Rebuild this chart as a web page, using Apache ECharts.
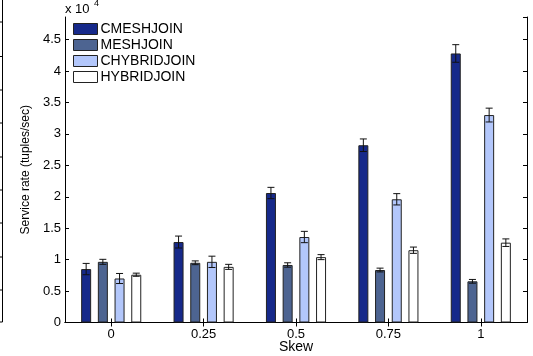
<!DOCTYPE html>
<html>
<head>
<meta charset="utf-8">
<script src="https://cdn.jsdelivr.net/npm/echarts@6/dist/echarts.min.js"></script>
<style>html,body{margin:0;padding:0;background:#fff}#c{width:533px;height:356px}</style>
</head>
<body>
<div id="c"></div>
<script>
// values in units of 10^4 tuples/sec
var categories = ['0', '0.25', '0.5', '0.75', '1'];
var seriesNames = ['CMESHJOIN', 'MESHJOIN', 'CHYBRIDJOIN', 'HYBRIDJOIN'];
var cmeshjoin = [0.85, 1.28, 2.06, 2.82, 4.28];
var meshjoin = [0.965, 0.95, 0.915, 0.835, 0.655];
var chybridjoin = [0.70, 0.965, 1.36, 1.96, 3.30];
var hybridjoin = [0.76, 0.885, 1.04, 1.15, 1.27];
var cmeshjoinErr = [0.09, 0.095, 0.09, 0.1, 0.14];
var meshjoinErr = [0.04, 0.03, 0.035, 0.03, 0.03];
var chybridjoinErr = [0.08, 0.09, 0.09, 0.09, 0.11];
var hybridjoinErr = [0.025, 0.04, 0.04, 0.05, 0.06];
var yTicks = [0, 0.5, 1, 1.5, 2, 2.5, 3, 3.5, 4, 4.5];

var values = [cmeshjoin, meshjoin, chybridjoin, hybridjoin];
var errs = [cmeshjoinErr, meshjoinErr, chybridjoinErr, hybridjoinErr];
var colors = ['#16298a', '#4d6491', '#b3c7fb', '#ffffff'];
var FONT = 'Liberation Sans';
var BAR_W = 10, BAR_GAP = 0.67;

var chart = echarts.init(document.getElementById('c'));
var series = [];
seriesNames.forEach(function (n, i) {
  series.push({
    name: n, type: 'bar', data: values[i], barWidth: BAR_W, barGap: (BAR_GAP * 100) + '%',
    itemStyle: { color: colors[i], borderColor: '#222', borderWidth: 1 },
    animation: false
  });
});
seriesNames.forEach(function (n, i) {
  var data = values[i].map(function (v, k) { return [k, v - errs[i][k], v + errs[i][k]]; });
  series.push({
    type: 'custom', data: data, z: 10, animation: false, silent: true,
    renderItem: function (params, api) {
      var k = api.value(0);
      var lo = api.coord([k, api.value(1)]);
      var hi = api.coord([k, api.value(2)]);
      var step = BAR_W * (1 + BAR_GAP);
      var total = 4 * BAR_W + 3 * BAR_W * BAR_GAP;
      var x = lo[0] - total / 2 + i * step + BAR_W / 2;
      var c = 3.5;
      var st = { stroke: '#111', lineWidth: 1, fill: null };
      return { type: 'group', children: [
        { type: 'line', shape: { x1: x, y1: lo[1], x2: x, y2: hi[1] }, style: st },
        { type: 'line', shape: { x1: x - c, y1: lo[1], x2: x + c, y2: lo[1] }, style: st },
        { type: 'line', shape: { x1: x - c, y1: hi[1], x2: x + c, y2: hi[1] }, style: st }
      ]};
    }
  });
});

var axisLineStyle = { show: true, lineStyle: { color: '#000', width: 1 } };
chart.setOption({
  backgroundColor: '#fff',
  animation: false,
  grid: { left: 65, right: 6, top: 17, bottom: 33.5, containLabel: false, outerBoundsMode: 'none' },
  legend: {
    data: seriesNames.map(function (n, i) {
      return { name: n, itemStyle: { color: colors[i], borderColor: '#222', borderWidth: 1 } };
    }),
    orient: 'vertical', left: 73, top: 22, itemWidth: 24, itemHeight: 11, itemGap: 2,
    textStyle: { fontFamily: FONT, fontSize: 14, lineHeight: 13.5, color: '#000', padding: [0, 0, 0, -2] },
    selectedMode: false, icon: 'rect', padding: 0
  },
  xAxis: [{
    type: 'category', data: categories, position: 'bottom',
    axisLine: axisLineStyle,
    axisTick: { show: true, inside: true, alignWithLabel: true, length: 4, lineStyle: { color: '#000' } },
    axisLabel: { fontFamily: FONT, fontSize: 13, color: '#000', margin: 5 },
    name: 'Skew', nameLocation: 'middle', nameGap: 18, nameMoveOverlap: false,
    nameTextStyle: { fontFamily: FONT, fontSize: 14, color: '#000' }
  }, {
    type: 'category', data: categories, position: 'top',
    axisLine: axisLineStyle,
    axisTick: { show: true, inside: true, alignWithLabel: true, length: 4, lineStyle: { color: '#000' } },
    axisLabel: { show: false }
  }],
  yAxis: [{
    type: 'value', min: 0, max: 4.86, interval: 0.5, position: 'left',
    axisLine: axisLineStyle,
    axisTick: { show: true, inside: true, length: 4, lineStyle: { color: '#000' } },
    splitLine: { show: false },
    axisLabel: { fontFamily: FONT, fontSize: 13, color: '#000', margin: 4, showMaxLabel: false,
      formatter: function (v) { return yTicks.indexOf(Math.round(v * 100) / 100) >= 0 ? String(Math.round(v * 100) / 100) : ''; } },
    name: 'Service rate (tuples/sec)', nameLocation: 'middle', nameGap: 22,
    nameTextStyle: { fontFamily: FONT, fontSize: 12, color: '#000' }
  }, {
    type: 'value', min: 0, max: 4.86, interval: 0.5, position: 'right',
    axisLine: axisLineStyle,
    axisTick: { show: true, inside: true, length: 4, lineStyle: { color: '#000' } },
    splitLine: { show: false },
    axisLabel: { show: false }
  }],
  graphic: [
    { type: 'text', left: 65, top: 3, style: { text: 'x 10', fontFamily: FONT, fontSize: 13, fill: '#000' } },
    { type: 'text', left: 94, top: -1, style: { text: '4', fontFamily: FONT, fontSize: 9, fill: '#000' } },
    { type: 'line', shape: { x1: 2.5, y1: 0, x2: 2.5, y2: 322 }, style: { stroke: '#000', lineWidth: 1 } },
    { type: 'line', shape: { x1: 0, y1: 322, x2: 2.5, y2: 322 }, style: { stroke: '#000', lineWidth: 1 } },
    { type: 'line', shape: { x1: 0, y1: 22, x2: 2.5, y2: 22 }, style: { stroke: '#000', lineWidth: 1 } },
    { type: 'line', shape: { x1: 0, y1: 56.5, x2: 2.5, y2: 56.5 }, style: { stroke: '#000', lineWidth: 1 } },
    { type: 'line', shape: { x1: 0, y1: 90, x2: 2.5, y2: 90 }, style: { stroke: '#000', lineWidth: 1 } },
    { type: 'line', shape: { x1: 0, y1: 123, x2: 2.5, y2: 123 }, style: { stroke: '#000', lineWidth: 1 } },
    { type: 'line', shape: { x1: 0, y1: 157, x2: 2.5, y2: 157 }, style: { stroke: '#000', lineWidth: 1 } },
    { type: 'line', shape: { x1: 0, y1: 190, x2: 2.5, y2: 190 }, style: { stroke: '#000', lineWidth: 1 } },
    { type: 'line', shape: { x1: 0, y1: 223, x2: 2.5, y2: 223 }, style: { stroke: '#000', lineWidth: 1 } },
    { type: 'line', shape: { x1: 0, y1: 257, x2: 2.5, y2: 257 }, style: { stroke: '#000', lineWidth: 1 } },
    { type: 'line', shape: { x1: 0, y1: 290, x2: 2.5, y2: 290 }, style: { stroke: '#000', lineWidth: 1 } }
  ],
  series: series
});
</script>
</body>
</html>
